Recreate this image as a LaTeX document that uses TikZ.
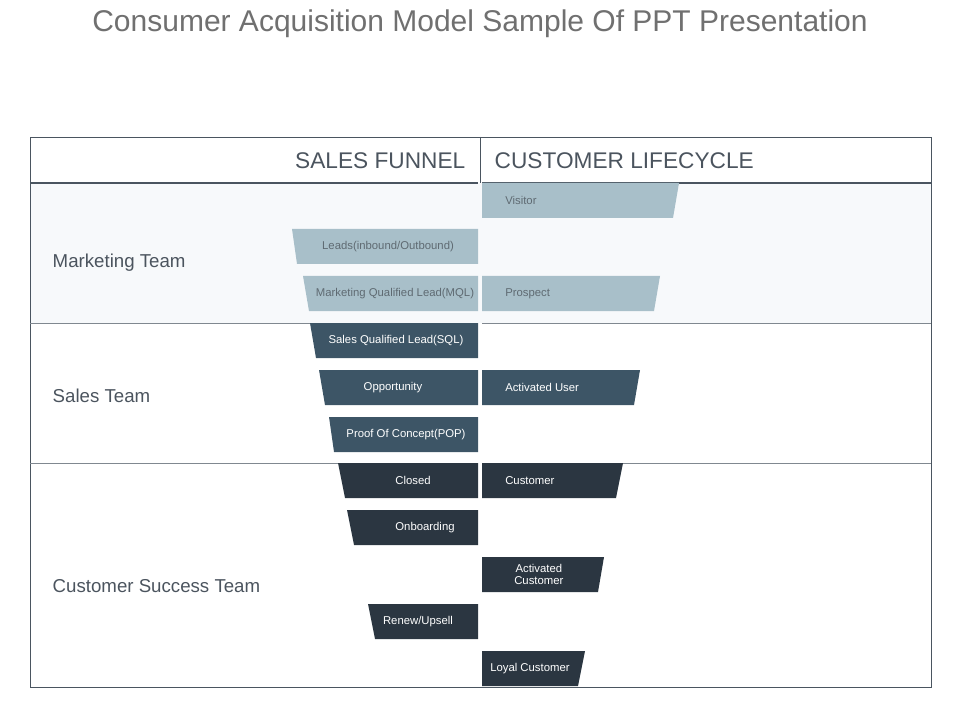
\documentclass[tikz,border=0pt]{standalone}
\usepackage{fontspec}
\setmainfont{Liberation Sans}
\definecolor{lightblue}{HTML}{A8BFC9}
\definecolor{midblue}{HTML}{3D5566}
\definecolor{darkblue}{HTML}{2B3641}
\definecolor{bandfill}{HTML}{F7F9FB}
\definecolor{linecol}{HTML}{4A5560}
\definecolor{titlecol}{HTML}{707070}
\definecolor{greytext}{HTML}{5F6A72}
\tikzset{
  boxtext/.style={font=\fontsize{8.5}{9}\selectfont, align=center, inner sep=0pt},
  teamlabel/.style={anchor=west, font=\fontsize{14}{16}\selectfont, text=darkblue!85},
}
\begin{document}
\begin{tikzpicture}[x=0.75pt,y=-0.75pt]
    \useasboundingbox (0,0) rectangle (960,720);
    % Title
    \node[font=\fontsize{22.5}{26}\selectfont, text=titlecol] (title) at (480,24) {Consumer Acquisition Model Sample Of PPT Presentation};

    % Table frame and bands
    \fill[bandfill] (30,183) rectangle (931,323);
    \draw[linecol, thin] (30,137) rectangle (931,687);
    \draw[linecol, thick] (30,183) -- (478,183);
    \draw[linecol, thick] (482,183) -- (931,183);
    \draw[linecol, thin] (480,137) -- (480,183);
    \foreach \y in {323,463} {
        \draw[linecol!70, thin] (30,\y) -- (478,\y);
        \draw[linecol!70, thin] (482,\y) -- (931,\y);
    }
    \node[anchor=east, font=\fontsize{17}{20}\selectfont, text=darkblue!85] (funnel) at (470,161) {SALES FUNNEL};
    \node[anchor=west, font=\fontsize{17}{20}\selectfont, text=darkblue!85] (cycle) at (490,161) {CUSTOMER LIFECYCLE};

    % Team labels
    \node[teamlabel] (mkt) at (48,263) {Marketing Team};
    \node[teamlabel] (sales) at (48,396) {Sales Team};
    \node[teamlabel] (success) at (48,586) {Customer Success Team};

    % Sales funnel (left)
    \foreach \top/\a/\b/\tx/\col/\tc/\txt/\name in {
        229/292/297/388/lightblue/greytext/{Leads(inbound/Outbound)}/leads,
        276/303/309/395/lightblue/greytext/{Marketing Qualified Lead(MQL)}/mql,
        323/310/316/396/midblue/white/{Sales Qualified Lead(SQL)}/sql,
        370/319/325/393/midblue/white/{Opportunity}/opp,
        417/329/334/406/midblue/white/{Proof Of Concept(POP)}/pop,
        463/338/345/413/darkblue/white/{Closed}/closed,
        510/347/354/425/darkblue/white/{Onboarding}/onboard,
        604/368/375/418/darkblue/white/{Renew/Upsell}/renew} {
        \fill[\col] (\a,\top) -- (478,\top) -- (478,\top+35) -- (\b,\top+35) -- cycle;
        \node[boxtext, text=\tc] (\name) at (\tx,\top+17.5) {\txt};
    }

    % Customer lifecycle (right)
    \foreach \top/\a/\b/\tx/\col/\tc/\txt/\name in {
        183/679/673/505/lightblue/greytext/{Visitor}/visitor,
        276/660/654/505/lightblue/greytext/{Prospect}/prospect,
        370/640/634/505/midblue/white/{Activated User}/actuser,
        463/623/616/505/darkblue/white/{Customer}/customer,
        557/604/598/514/darkblue/white/{Activated\\Customer}/actcust,
        651/585/578/490/darkblue/white/{Loyal Customer}/loyal} {
        \fill[\col] (482,\top) -- (\a,\top) -- (\b,\top+35) -- (482,\top+35) -- cycle;
        \node[boxtext, anchor=west, text=\tc] (\name) at (\tx,\top+17.5) {\txt};
    }
\end{tikzpicture}
\end{document}
